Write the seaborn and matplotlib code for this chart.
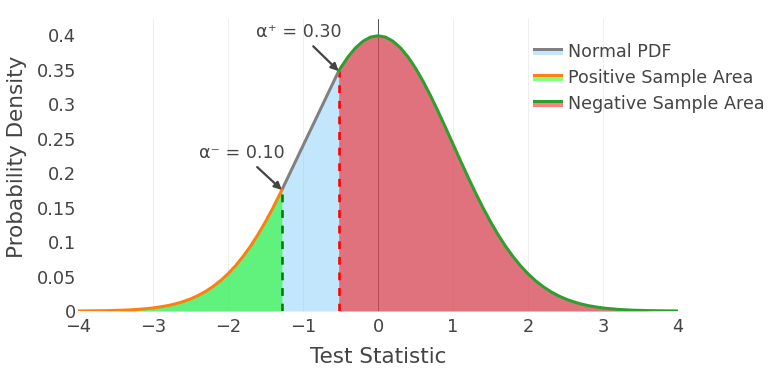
import matplotlib
matplotlib.use("Agg")
import matplotlib.pyplot as plt
import seaborn as sns
from matplotlib.legend_handler import HandlerBase
from matplotlib.patches import Rectangle

# ---------------- data ----------------
x_grid = [round(-4.0 + 0.1 * i, 1) for i in range(81)]
pdf_values = [
    0.0001, 0.0002, 0.0003, 0.0004, 0.0006, 0.0009, 0.0012, 0.0017, 0.0024, 0.0033,
    0.0044, 0.0060, 0.0079, 0.0104, 0.0136, 0.0175, 0.0224, 0.0283, 0.0355, 0.0440,
    0.0540, 0.0656, 0.0790, 0.0940, 0.1109, 0.1295, 0.1497, 0.1714, 0.1942, 0.2179,
    0.2420, 0.2661, 0.2897, 0.3123, 0.3332, 0.3521, 0.3683, 0.3814, 0.3910, 0.3970,
    0.3989,
    0.3970, 0.3910, 0.3814, 0.3683, 0.3521, 0.3332, 0.3123, 0.2897, 0.2661, 0.2420,
    0.2179, 0.1942, 0.1714, 0.1497, 0.1295, 0.1109, 0.0940, 0.0790, 0.0656, 0.0540,
    0.0440, 0.0355, 0.0283, 0.0224, 0.0175, 0.0136, 0.0104, 0.0079, 0.0060, 0.0044,
    0.0033, 0.0024, 0.0017, 0.0012, 0.0009, 0.0006, 0.0004, 0.0003, 0.0002, 0.0001,
]
alpha_neg, alpha_pos = 0.10, 0.30
z_neg, z_pos = -1.2816, -0.5244
pdf_neg, pdf_pos = 0.1755, 0.3477

series_names = ["Normal PDF", "Positive Sample Area", "Negative Sample Area"]
x_ticks = [-4, -3, -2, -1, 0, 1, 2, 3, 4]
x_tick_labels = ["\u22124", "\u22123", "\u22122", "\u22121", "0", "1", "2", "3", "4"]
y_ticks = [0, 0.05, 0.1, 0.15, 0.2, 0.25, 0.3, 0.35, 0.4]
y_tick_labels = ["0", "0.05", "0.1", "0.15", "0.2", "0.25", "0.3", "0.35", "0.4"]

# segments
xl = [x for x in x_grid if x < z_neg] + [z_neg]
yl = [y for x, y in zip(x_grid, pdf_values) if x < z_neg] + [pdf_neg]
xm = [z_neg, z_pos]
ym = [pdf_neg, pdf_pos]
xr = [z_pos] + [x for x in x_grid if x > z_pos]
yr = [pdf_pos] + [y for x, y in zip(x_grid, pdf_values) if x > z_pos]
x_all = xl + xr
y_all = yl + yr

# ---------------- style ----------------
sns.set_theme(style="white")
plt.rcParams["font.family"] = ["DejaVu Sans"]
TXT = "#444444"
PX = 0.72  # points per pixel at dpi 100

fig = plt.figure(figsize=(7.81, 3.90), dpi=100)
ax = fig.add_axes([78 / 781, (390 - 311) / 390, 600 / 781, 292 / 390])

ax.set_xlim(-4, 4)
ax.set_ylim(0, 0.4232)
for s in ax.spines.values():
    s.set_visible(False)

# grid and zero lines (below traces)
for gx in [-3, -2, -1, 1, 2, 3]:
    ax.axvline(gx, color="#eeeeee", lw=1 * PX, zorder=0)
ax.axvline(0, color="#555555", lw=1 * PX, zorder=0.5)
ax.axhline(0, color="#555555", lw=1 * PX, zorder=0.5)

# fills
ax.fill_between(x_all, y_all, 0, color=(135 / 255, 206 / 255, 250 / 255, 0.5), lw=0, zorder=1)
ax.fill_between(xl, yl, 0, color=(0, 1, 0, 0.5), lw=0, zorder=1.1)
ax.fill_between(xr, yr, 0, color=(1, 0, 0, 0.5), lw=0, zorder=1.1)

# dashed threshold lines
ax.plot([z_neg, z_neg], [0, pdf_neg], color="green", lw=2.6 * PX, dashes=(3, 3), zorder=2)
ax.plot([z_pos, z_pos], [0, pdf_pos], color="red", lw=2.6 * PX, dashes=(3, 3), zorder=2)

# curve lines
sns.lineplot(x=xm, y=ym, ax=ax, color="#808080", lw=3 * PX, sort=False, estimator=None, zorder=3)
sns.lineplot(x=xl, y=yl, ax=ax, color="#ff7f0e", lw=3 * PX, sort=False, estimator=None, zorder=3.2)
sns.lineplot(x=xr, y=yr, ax=ax, color="#2ca02c", lw=3 * PX, sort=False, estimator=None, zorder=3.2)

# ticks
ax.set_xticks(x_ticks)
ax.set_xticklabels(x_tick_labels)
ax.set_yticks(y_ticks)
ax.set_yticklabels(y_tick_labels)
ax.tick_params(axis="both", length=0, colors=TXT, labelsize=12.8)
ax.tick_params(axis="x", pad=4.8)
ax.tick_params(axis="y", pad=1.5)
ax.set_xlabel("")
ax.set_ylabel("")
ax.grid(False)

# axis titles
fig.text(378 / 781, 1 - 363 / 390, "Test Statistic", ha="center", va="baseline",
         fontsize=15.5, color=TXT)
fig.text(23.3 / 781, 1 - 156.7 / 390, "Probability Density", ha="center", va="baseline",
         rotation=90, rotation_mode="anchor", fontsize=15.5, color=TXT)

# annotations
arrow = dict(arrowstyle="-|>", color="#444444", lw=1.6 * PX * 1.4, mutation_scale=11,
             shrinkA=2, shrinkB=0)
ax.annotate(f"\u03b1\u207b = {alpha_neg:.2f}", xy=(z_neg, pdf_neg), xytext=(-40 * PX, 37 * PX),
            textcoords="offset points", ha="center", va="center", fontsize=12.6, color=TXT,
            arrowprops=arrow, zorder=5)
ax.annotate(f"\u03b1\u207a = {alpha_pos:.2f}", xy=(z_pos, pdf_pos), xytext=(-40 * PX, 39 * PX),
            textcoords="offset points", ha="center", va="center", fontsize=12.6, color=TXT,
            arrowprops=arrow, zorder=5)

# legend with two-stripe handles
class Stripe:
    def __init__(self, line_c, fill_c):
        self.line_c = line_c
        self.fill_c = fill_c


class StripeHandler(HandlerBase):
    def create_artists(self, legend, orig_handle, xdescent, ydescent, width, height,
                       fontsize, trans):
        mid = -ydescent + height / 2
        top = Rectangle((-xdescent, mid), width, 3 * PX, facecolor=orig_handle.line_c,
                        lw=0, transform=trans)
        bot = Rectangle((-xdescent, mid - 4 * PX), width, 4 * PX, facecolor=orig_handle.fill_c,
                        lw=0, transform=trans)
        return [bot, top]


handles = [
    Stripe("#808080", (195 / 255, 230 / 255, 252 / 255)),
    Stripe("#ff7f0e", (128 / 255, 1, 128 / 255)),
    Stripe("#2ca02c", (1, 128 / 255, 128 / 255)),
]
leg = fig.legend(handles, series_names, handler_map={Stripe: StripeHandler()},
                 loc="upper left", bbox_to_anchor=(533 / 781, 1 - 43 / 390),
                 frameon=False, fontsize=12.6, borderpad=0, borderaxespad=0,
                 handlelength=30 * PX / 12.6, handletextpad=0.27, labelspacing=0.47)
for t in leg.get_texts():
    t.set_color(TXT)

fig.savefig("out.png", dpi=100)
